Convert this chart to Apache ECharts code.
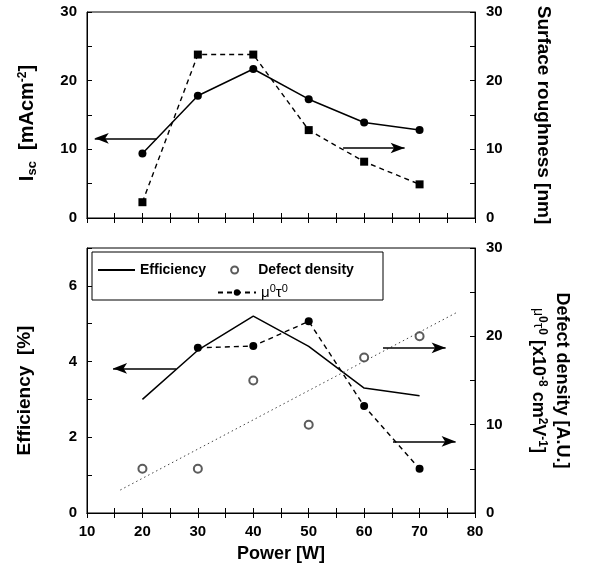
<!DOCTYPE html>
<html>
<head>
<meta charset="utf-8">
<script src="https://cdn.jsdelivr.net/npm/echarts@6/dist/echarts.min.js"></script>
<style>
  html, body { margin: 0; padding: 0; background: #fff; }
  #chart { width: 593px; height: 570px; }
</style>
</head>
<body>
<div id="chart"></div>
<script>
// data
const power = [20, 30, 40, 50, 60, 70];
const isc = [9.4, 17.8, 21.7, 17.3, 13.9, 12.8];
const roughness = [2.3, 23.8, 23.8, 12.8, 8.2, 4.9];
const efficiency = [3.0, 4.3, 5.2, 4.4, 3.3, 3.1];
const defectDensity = [5.0, 5.0, 15.0, 10.0, 17.6, 20.0];
const muTauPower = [30, 40, 50, 60, 70];
const muTau = [18.7, 18.9, 21.7, 12.1, 5.0];
// dotted guide line through the defect density points
const trendPower = [16, 77];
const trendDefect = [2.6, 22.8];

const FONT = 'Liberation Sans, Arial, sans-serif';
const zip = (xs, ys) => xs.map((x, i) => [x, ys[i]]);

const chartDom = document.getElementById('chart');
const myChart = echarts.init(chartDom);

const tickLabel = { fontSize: 15, fontWeight: 'bold', color: '#000', fontFamily: FONT };
const axisLineStyle = { show: true, lineStyle: { color: '#000', width: 1 } };
const tick = { show: true, inside: true, length: 5, lineStyle: { color: '#000' } };
const bigText = { fontSize: 19, fontWeight: 'bold', color: '#000', fontFamily: FONT };
const supText = { fontSize: 12, fontWeight: 'bold', color: '#000', fontFamily: FONT, padding: [0, 0, 9, 0] };
const subText = { fontSize: 13, fontWeight: 'bold', color: '#000', fontFamily: FONT, padding: [10, 0, 0, 0] };

function xAx(grid, pos, labels) {
  return {
    type: 'value', gridIndex: grid, position: pos, min: 10, max: 80, interval: 5,
    axisLine: axisLineStyle, axisTick: tick, splitLine: { show: false },
    axisLabel: labels ? Object.assign({ margin: 11, formatter: v => v % 10 === 0 ? v : '' }, tickLabel) : { show: false }
  };
}

function arrow(from, to) {
  return [{ coord: from }, { coord: to }];
}
const arrowLine = {
  silent: true,
  symbol: ['none', 'arrow'],
  symbolSize: [8, 14],
  label: { show: false },
  lineStyle: { color: '#000', width: 1.5, type: 'solid' },
  emphasis: { disabled: true }
};

const option = {
  animation: false,
  textStyle: { fontFamily: FONT },
  grid: [
    { left: 87, right: 118, top: 12, bottom: 352, show: true, borderColor: '#000', borderWidth: 1 },
    { left: 87, right: 118, top: 248, bottom: 57, show: true, borderColor: '#000', borderWidth: 1 }
  ],
  graphic: [
    { type: 'rect', z: 5, shape: { x: 92, y: 252, width: 291, height: 48 },
      style: { fill: '#fff', stroke: '#000', lineWidth: 1 } }
  ],
  legend: [
    {
      data: [
        { name: 'Efficiency', itemStyle: { opacity: 0 } },
        'Defect density'
      ],
      left: 97, top: 263, z: 10, padding: 0,
      itemWidth: 37, itemHeight: 7, itemGap: 24,
      textStyle: { fontSize: 14, fontWeight: 'bold', color: '#000', fontFamily: FONT }
    },
    {
      data: ['μ0τ0'],
      left: 217, top: 283, z: 10, padding: 0,
      itemWidth: 38, itemHeight: 8,
      formatter: () => '{m|μ}{s|0}{m|τ}{s|0}',
      textStyle: {
        fontSize: 15, color: '#000', fontFamily: FONT,
        rich: {
          m: { fontSize: 15, color: '#000', fontFamily: FONT },
          s: { fontSize: 11, color: '#000', fontFamily: FONT, padding: [0, 0, 8, 0] }
        }
      }
    }
  ],
  xAxis: [
    xAx(0, 'bottom', false),
    xAx(0, 'top', false),
    Object.assign(xAx(1, 'bottom', true), {
      name: 'Power [W]', nameLocation: 'middle', nameGap: 32,
      nameTextStyle: { fontSize: 18, fontWeight: 'bold', color: '#000', fontFamily: FONT }
    }),
    xAx(1, 'top', false)
  ],
  yAxis: [
    {
      type: 'value', gridIndex: 0, position: 'left', min: 0, max: 30, interval: 5,
      axisLine: axisLineStyle, axisTick: tick, splitLine: { show: false },
      axisLabel: Object.assign({ margin: 10, formatter: v => v % 10 === 0 ? v : '' }, tickLabel),
      name: '{b|I}{sub|sc}{b|  [mAcm}{sup|-2}{e|]}',
      nameLocation: 'middle', nameRotate: 90, nameGap: 48,
      nameTextStyle: {
        rich: {
          b: Object.assign({}, bigText, { fontSize: 20 }),
          e: Object.assign({}, bigText, { fontSize: 20, padding: [0, 16, 0, 0] }),
          sub: subText, sup: supText
        }
      }
    },
    {
      type: 'value', gridIndex: 0, position: 'right', min: 0, max: 30, interval: 5,
      axisLine: axisLineStyle, axisTick: tick, splitLine: { show: false },
      axisLabel: Object.assign({ margin: 11, formatter: v => v % 10 === 0 ? v : '' }, tickLabel),
      name: 'Surface roughness [nm]',
      nameLocation: 'middle', nameRotate: -90, nameGap: 59,
      nameTextStyle: bigText
    },
    {
      type: 'value', gridIndex: 1, position: 'left', min: 0, max: 7, interval: 1,
      axisLine: axisLineStyle, axisTick: tick, splitLine: { show: false },
      axisLabel: Object.assign({ margin: 10, formatter: v => v % 2 === 0 && v < 7 ? v : '' }, tickLabel),
      name: '{b|Efficiency  [%]}',
      nameLocation: 'middle', nameRotate: 90, nameGap: 53,
      nameTextStyle: { rich: { b: Object.assign({}, bigText, { padding: [0, 20, 0, 0] }) } }
    },
    {
      type: 'value', gridIndex: 1, position: 'right', min: 0, max: 30, interval: 5,
      axisLine: axisLineStyle, axisTick: tick, splitLine: { show: false },
      axisLabel: Object.assign({ margin: 11, formatter: v => v % 10 === 0 ? v : '' }, tickLabel),
      name: '{b|Defect density [A.U.]}\n{m|μ}{sup|0}{m|τ}{sup|0}{b| [x10}{sup|-8}{b| cm}{sup|2}{b|V}{sup|-1}{b|]}',
      nameLocation: 'middle', nameRotate: -90, nameGap: 51,
      nameTextStyle: {
        lineHeight: 24,
        rich: {
          b: Object.assign({}, bigText, { fontSize: 18, lineHeight: 24 }),
          m: { fontSize: 14, color: '#000', fontFamily: FONT },
          sup: supText
        }
      }
    }
  ],
  series: [
    {
      name: 'Isc', type: 'line', xAxisIndex: 0, yAxisIndex: 0,
      data: zip(power, isc),
      symbol: 'circle', symbolSize: 8,
      itemStyle: { color: '#000' },
      lineStyle: { color: '#000', width: 1.5 },
      markLine: Object.assign({ data: [arrow([22.6, 11.6], [11.4, 11.6])] }, arrowLine)
    },
    {
      name: 'Surface roughness', type: 'line', xAxisIndex: 0, yAxisIndex: 1,
      data: zip(power, roughness),
      symbol: 'rect', symbolSize: 8,
      itemStyle: { color: '#000' },
      lineStyle: { color: '#000', width: 1.4, type: [5, 4] },
      markLine: Object.assign({ data: [arrow([56.2, 10.2], [67.3, 10.2])] }, arrowLine)
    },
    {
      name: 'Efficiency', type: 'line', xAxisIndex: 2, yAxisIndex: 2,
      data: zip(power, efficiency),
      symbol: 'none',
      itemStyle: { color: '#000' },
      lineStyle: { color: '#000', width: 1.5 },
      markLine: Object.assign({ data: [arrow([26.1, 3.82], [14.7, 3.82])] }, arrowLine)
    },
    {
      name: 'Defect density', type: 'scatter', xAxisIndex: 2, yAxisIndex: 3,
      data: zip(power, defectDensity),
      symbol: 'emptyCircle', symbolSize: 8,
      itemStyle: { color: '#333', borderWidth: 1 }
    },
    {
      name: 'μ0τ0', type: 'line', xAxisIndex: 2, yAxisIndex: 3,
      data: zip(muTauPower, muTau),
      symbol: 'circle', symbolSize: 8,
      itemStyle: { color: '#000' },
      lineStyle: { color: '#000', width: 1.4, type: [5, 4] },
      markLine: Object.assign({
        data: [arrow([63.4, 18.7], [74.7, 18.7]), arrow([65.2, 8.1], [76.5, 8.1])]
      }, arrowLine)
    },
    {
      name: 'trend', type: 'line', xAxisIndex: 2, yAxisIndex: 3,
      data: zip(trendPower, trendDefect),
      symbol: 'none', silent: true,
      lineStyle: { color: '#444', width: 1, type: [1.5, 3] }
    }
  ]
};

myChart.setOption(option);
</script>
</body>
</html>
